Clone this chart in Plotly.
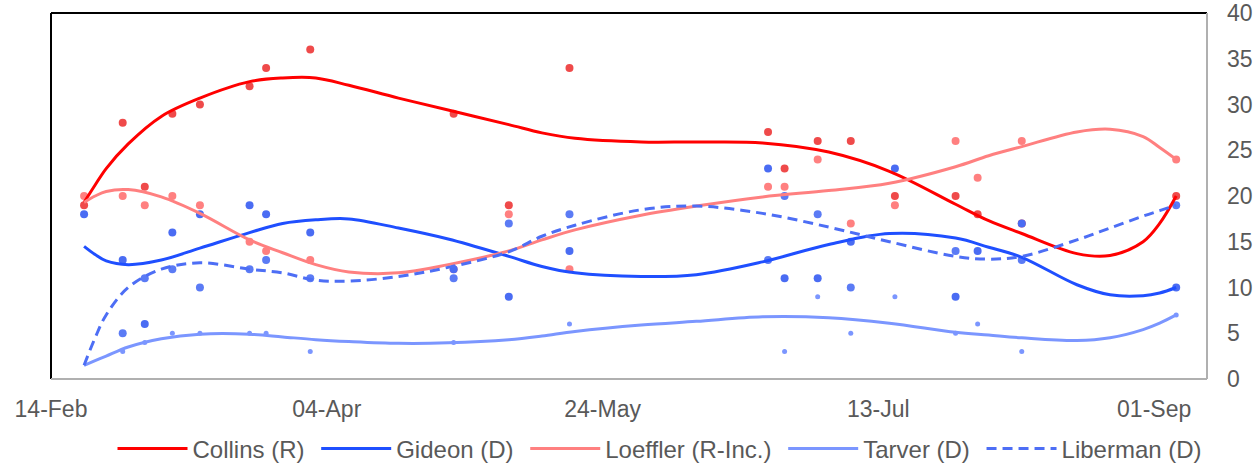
import plotly.graph_objects as go

# ---------------- data ----------------
poll_dates = ["2020-02-20", "2020-02-27", "2020-03-02", "2020-03-07", "2020-03-12",
              "2020-03-21", "2020-03-24", "2020-04-01", "2020-04-27", "2020-05-07",
              "2020-05-18", "2020-06-23", "2020-06-26", "2020-07-02", "2020-07-08",
              "2020-07-16", "2020-07-27", "2020-07-31", "2020-08-08", "2020-09-05"]
collins_polls = [19, 28, 21, 29, 30, 32, 34, 36, 29, 19, 34, 27, 23, 26, 26, 20, 20, 18, 17, 20]
loeffler_polls = [20, 20, 19, 20, 19, 15, 14, 13, 12, 18, 12, 21, 21, 24, 17, 19, 26, 22, 26, 24]
gideon_polls = [18, 13, 6, 16, 18, 19, 18, 16, 12, 9, 14, 23, 11, 11, 15, 23, 9, 14, 17, 10]
liberman_polls = [None, 5, 11, 12, 10, 12, 13, 11, 11, 17, 18, 13, 20, 18, 10, None, 14, None, 13, 19]
tarver_polls = [None, 3, 4, 5, 5, 5, 5, 3, 4, None, 6, None, 3, 9, 5, 9, 5, 6, 3, 7]

trend_dates = ["2020-02-20", "2020-02-22", "2020-02-24", "2020-02-28", "2020-03-05",
               "2020-03-12", "2020-03-21", "2020-03-27", "2020-04-02", "2020-04-08",
               "2020-04-17", "2020-04-26", "2020-05-07", "2020-05-13", "2020-05-19",
               "2020-05-31", "2020-06-10", "2020-06-22", "2020-07-04", "2020-07-15",
               "2020-07-27", "2020-08-02", "2020-08-08", "2020-08-18", "2020-08-24",
               "2020-08-30", "2020-09-02", "2020-09-05"]
collins_trend = [19.3, 21.2, 23.0, 25.7, 28.7, 30.7, 32.5, 32.9, 32.9, 32.1,
                 30.7, 29.4, 27.8, 26.9, 26.3, 25.9, 25.9, 25.8, 24.8, 22.7,
                 19.1, 17.3, 15.9, 13.7, 13.5, 15.0, 17.0, 20.0]
gideon_trend = [14.5, 13.6, 12.9, 12.5, 13.0, 14.3, 16.0, 17.0, 17.4, 17.5,
                16.5, 15.3, 13.4, 12.3, 11.6, 11.2, 11.4, 12.8, 14.7, 15.9,
                15.4, 14.4, 13.3, 10.3, 9.2, 9.1, 9.4, 10.0]
loeffler_trend = [19.3, 20.0, 20.5, 20.7, 19.9, 18.1, 15.2, 13.8, 12.5, 11.7,
                  11.6, 12.5, 14.0, 15.2, 16.3, 17.9, 18.9, 19.9, 20.6, 21.4,
                  23.2, 24.4, 25.4, 27.0, 27.3, 26.5, 25.3, 24.0]
tarver_trend = [1.5, 2.0, 2.5, 3.5, 4.4, 4.9, 4.9, 4.6, 4.3, 4.1,
                3.9, 3.95, 4.3, 4.7, 5.2, 5.9, 6.3, 6.8, 6.7, 6.1,
                5.1, 4.8, 4.5, 4.2, 4.5, 5.4, 6.1, 7.0]
liberman_trend = [1.5, 4.5, 7.0, 10.0, 12.0, 12.7, 12.0, 11.6, 10.8, 10.7,
                  11.2, 12.2, 13.9, 15.6, 16.8, 18.5, 18.9, 18.1, 16.6, 15.0,
                  13.4, 13.1, 13.4, 15.2, 16.5, 17.8, 18.4, 19.0]

x_tick_vals = ["2020-02-14", "2020-04-04", "2020-05-24", "2020-07-13", "2020-09-01"]
x_tick_text = ["14-Feb", "04-Apr", "24-May", "13-Jul", "01-Sep"]
y_tick_vals = [0, 5, 10, 15, 20, 25, 30, 35, 40]

# ---------------- styling ----------------
FONT = "Liberation Sans, Arial, sans-serif"
GREY = "#595959"
NBSP = "\u00a0"

series = [
    # name, polls, trend, line colour, dot colour, dot size, dash
    ("Collins (R)", collins_polls, collins_trend, "#ff0000", "#ef4a4a", 8, "solid"),
    ("Gideon (D)", gideon_polls, gideon_trend, "#1f4fff", "#4a6cf3", 8, "solid"),
    ("Loeffler (R-Inc.)", loeffler_polls, loeffler_trend, "#ff8080", "#ff8080", 8, "solid"),
    ("Tarver (D)", tarver_polls, tarver_trend, "#7b96ff", "#7b96ff", 5, "solid"),
    ("Liberman (D)", liberman_polls, liberman_trend, "#4d6ef5", "#5b7bf5", 8, "10px,6px"),
]

fig = go.Figure()

# dots first (drawn under lines); order: reds, then blues
for name, polls, trend, lc, dc, ds, dash in [series[0], series[2], series[3], series[4], series[1]]:
    fig.add_trace(go.Scatter(
        x=poll_dates, y=polls, mode="markers",
        marker=dict(color=dc, size=ds, line=dict(width=0)),
        showlegend=False, hoverinfo="skip"))

for i, (name, polls, trend, lc, dc, ds, dash) in enumerate(series):
    label = name + (NBSP if i < len(series) - 1 else "")
    fig.add_trace(go.Scatter(
        x=trend_dates, y=trend, mode="lines", name=label,
        line=dict(color=lc, width=3, shape="spline", smoothing=1.0, dash=dash)))

W, H = 1259, 466
fig.update_layout(
    width=W, height=H,
    margin=dict(l=51, r=52, t=13, b=87, autoexpand=False),
    paper_bgcolor="white", plot_bgcolor="white",
    font=dict(family=FONT, size=23, color=GREY),
    showlegend=True,
    legend=dict(orientation="h", xref="container", yref="container",
                x=660 / W, xanchor="center", y=1 - 449 / H, yanchor="middle",
                font=dict(size=24, color=GREY), itemwidth=70, traceorder="normal",
                bgcolor="rgba(0,0,0,0)"),
    xaxis=dict(type="date", range=["2020-02-14", "2020-09-10 14:00"],
               tickvals=x_tick_vals, ticktext=x_tick_text, automargin=False,
               showgrid=False, zeroline=False, showline=False, ticks="",
               ticklabeloverflow="allow",
               ticklabelstandoff=14, tickfont=dict(size=23, color=GREY)),
    yaxis=dict(side="right", range=[0, 40], tickvals=y_tick_vals, automargin=False,
               showgrid=False, zeroline=False, showline=False, ticks="",
               ticklabeloverflow="allow",
               ticklabelstandoff=19, tickfont=dict(size=23, color=GREY)),
    shapes=[
        dict(type="line", xref="paper", yref="paper", x0=0, x1=1, y0=1, y1=1,
             line=dict(color="black", width=2)),
        dict(type="line", xref="paper", yref="paper", x0=0, x1=0, y0=0, y1=1,
             line=dict(color="black", width=2)),
        dict(type="line", xref="paper", yref="paper", x0=0, x1=1, y0=0, y1=0,
             line=dict(color="#b0b0b0", width=2)),
        dict(type="line", xref="paper", yref="paper", x0=1, x1=1, y0=0, y1=1,
             line=dict(color="#b0b0b0", width=2)),
    ],
)

# remove the browser's default 8px body margin so the figure fills the window
fig.write_html("out.html",
               config={"displayModeBar": False},
               post_script="document.body.style.margin='0';document.body.style.overflow='hidden';")
